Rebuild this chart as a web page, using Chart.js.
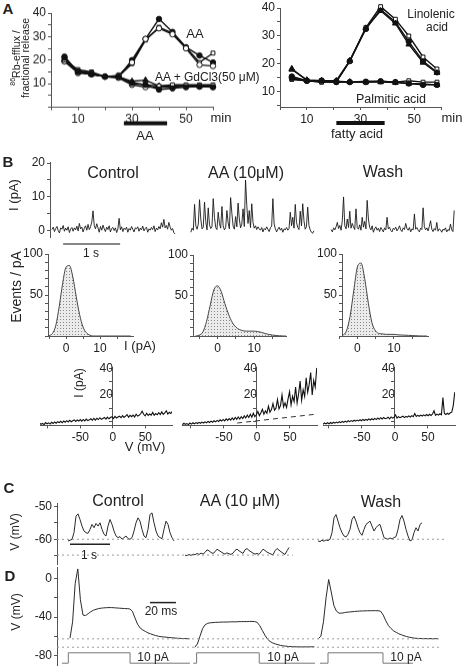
<!DOCTYPE html>
<html>
<head>
<meta charset="utf-8">
<script src="https://cdn.jsdelivr.net/npm/chart.js@4.4.1/dist/chart.umd.min.js"></script>
<style>
  html, body { margin: 0; padding: 0; background: #fff; }
  #fig { position: relative; width: 468px; height: 668px; overflow: hidden;
         font-family: 'Liberation Sans', Arial, Helvetica, sans-serif; color: #222; }
  .box { position: absolute; }
  .lbl { position: absolute; white-space: nowrap; line-height: 1; z-index: 5; text-align: center; }
</style>
</head>
<body>
<div id="fig"></div>
<script>
// ---------- A: 86Rb efflux (fractional release, %) ----------
const aaTimes = [5, 10, 15, 20, 25, 30, 35, 40, 45, 50, 55, 60];
const aaFilled = [21.5, 15, 14.5, 13, 13, 20, 29, 37.5, 32, 25.5, 22, 19];
const aaSquare = [20, 16, 15, 13, 13, 18.5, 28.5, 34, 31.5, 25.5, 19, 23];
const aaCircle = [19.5, 15, 14, 13, 13.5, 19, 29, 33.5, 31, 25, 18, 17.5];
const gdFilled = [21, 15, 14, 13, 13, 10.5, 9.5, 7.5, 8, 8.5, 8.7, 8.5];
const gdSquare = [20, 15.5, 14.5, 13, 12.5, 10, 9.5, 9, 9.5, 9.5, 9.5, 9.5];
const gdTriangle = [20.5, 15, 14, 13, 13, 11, 11.5, 9, 9, 9, 9, 9];
const gdCircle = [19.5, 14.5, 14, 13, 12.5, 9.5, 8.5, 8.5, 8.5, 9, 9, 8.7];
const aaApplied = [27, 43];

const faTimes = [4.4, 10, 15.5, 21, 26, 32, 37.5, 43, 48, 53.3, 58.5];
const linFilled = [15.5, 14, 14, 13.8, 21, 32.5, 39.5, 35, 28, 21, 17];
const linSquare = [14.5, 14, 13.5, 13.5, 21, 33, 40.5, 36, 30, 22.5, 18.2];
const linTriangle = [18.3, 14.2, 14, 14, 21.2, 32.8, 39, 34.5, 27, 20.5, 16.8];
const palFilled = [15, 14, 14, 13.5, 13.5, 13.5, 13.8, 13.5, 13, 12.5, 12.5];
const palSquare = [14.5, 14, 13.5, 13.5, 13.5, 13.8, 13.8, 13.5, 14, 13.5, 13.5];
const palTriangle = [18, 14.2, 14, 13.8, 13.6, 13.5, 13.5, 13.3, 13, 12.8, 12.5];
const faApplied = [21, 39];

const effluxTicks = [0, 5, 10, 15, 20, 25, 30, 35, 40];
const minuteTicks = [0, 10, 20, 30, 40, 50, 60];

// ---------- B: single channel current (pA), sampled every 21.8 ms ----------
const chanDt = 0.0218;
const chanControl = [0.4,1.1,-0.2,0.7,1.3,0.1,-0.6,0.9,0.5,1.6,
  -0.1,0.8,0.2,1.2,-0.5,0.6,1.0,-0.1,0.9,0.3,
  1.4,0.0,2.2,0.6,1.1,-0.3,0.8,1.5,0.2,1.9,
  0.4,1.2,2.6,5.9,1.5,0.6,2.1,0.9,-0.4,1.3,
  0.2,1.7,0.6,-0.2,1.1,0.4,1.5,-0.3,0.7,1.0,
  0.1,0.9,-0.5,0.6,3.7,0.3,1.2,-0.2,0.8,0.4,
  1.1,-0.4,0.7,0.2,1.3,0.5,-0.3,0.9,0.6,1.2,
  -0.1,0.8,0.3,1.4,0.0,0.7,1.1,-0.4,0.6,0.2,
  1.0,0.4,1.5,-0.2,0.8,0.3,1.3,0.6,2.4,1.1,
  3.4,0.9,1.6,0.5,2.5,1.2,0.2,0.7,-0.5,-0.9];
const chanAA = [-0.4,0.8,0.2,7.8,1.5,0.5,2.0,9.2,3.5,0.6,
  1.1,8.5,2.8,0.3,6.8,1.8,0.7,1.2,9.5,4.0,
  1.0,0.4,5.5,2.2,0.8,7.2,1.5,0.3,1.0,6.0,
  2.4,0.6,9.8,5.2,1.4,0.5,4.2,1.2,8.2,3.5,
  0.9,2.0,6.5,1.3,15.0,7.5,2.2,6.0,1.0,8.0,
  2.5,0.8,1.5,0.4,1.2,0.6,0.2,1.0,-0.3,0.7,
  0.3,1.2,0.5,-0.2,0.9,1.4,9.5,2.0,0.6,-0.3,
  0.5,1.1,0.2,0.8,-0.4,0.6,0.3,1.0,0.2,0.7,
  5.5,1.5,4.0,0.8,7.8,2.5,1.0,0.4,5.8,1.5,
  8.0,3.0,0.5,1.2,7.0,1.6,0.3,-0.4,-0.7,0.0];
const chanWash = [0.4,-0.3,0.9,0.3,1.2,2.5,0.7,1.6,0.2,3.0,
  10.0,1.5,0.6,3.5,1.0,5.8,0.8,2.2,1.2,0.4,
  6.5,1.0,0.5,1.8,0.2,4.0,1.1,2.8,0.6,9.0,
  3.5,1.0,0.3,1.5,-0.4,0.6,1.2,0.2,0.8,-0.2,
  1.0,0.4,-0.3,0.9,0.3,4.0,0.6,1.1,0.1,-0.3,
  0.8,0.4,1.1,0.0,0.6,1.5,0.3,-0.2,0.9,0.4,
  2.2,0.7,0.2,1.0,-0.3,0.6,0.3,5.0,0.5,1.0,
  0.2,-0.3,0.8,0.4,6.8,1.2,0.3,0.9,0.0,1.3,
  3.0,0.5,-0.2,0.7,0.2,2.5,-0.1,0.6,0.3,-0.4,
  0.5,0.2,0.9,-0.3,0.4,0.1,2.0,0.3,-0.2,6.0];
const chanTicks = [0, 5, 10, 15, 20];

// amplitude histograms (events / pA) at I = -6 ... 19 pA
const histCurrent = [-6,-5,-4,-3,-2,-1,0,1,2,3,4,5,6,7,8,9,10,11,12,13,14,15,16,17,18,19];
const histControl = [0,0.5,3,13,36,64,84,86,72,48,26,11,4,1,0,0,0,0,0,0,0,0,0,0,0,0];
const histAA = [0,1,5,18,38,57,62,55,40,27,17,11,8,6.5,6,6,6,5.5,4.5,3,2,1.2,0.6,0.2,0,0];
const histWash = [0,0,1,6,24,55,84,89,70,40,16,6,3,2.5,2,2,2,1.5,1.2,1,0.8,0.5,0.3,0.1,0,0];
const histCountTicks = [0, 10, 20, 30, 40, 50, 60, 70, 80, 90, 100];
const histCurrentTicks = [-5, 0, 5, 10, 15];

// I-V ramps: current (pA) along a voltage ramp [start, end] mV
const rampControl = [-115, 91.5];
const ivControl = [-2.6,-1.2,-2.2,-1.5,-2.4,-0.9,-1.8,-1.1,-2.0,-0.6,
  -1.5,-0.4,-1.3,-0.2,-0.9,0.1,-1.0,0.3,-0.6,0.6,
  -0.4,0.9,-0.2,0.5,1.2,0.0,1.1,0.3,1.4,0.2,
  1.5,0.4,1.8,0.6,1.2,2.0,0.9,2.3,1.0,2.4,
  1.4,2.8,1.6,2.2,3.0,1.7,3.3,2.0,3.0,3.6,
  2.2,3.8,2.6,3.4,4.0,2.8,4.4,3.0,4.0,5.2,
  3.2,4.6,3.6,4.8,3.4,5.5,4.0,4.6,5.8,7.8,
  5.4,4.2,6.2,4.5,5.6,4.8,6.8,4.6,5.9,5.0,
  6.6,5.2,7.2,5.4,6.4,8.0,5.6,6.9,6.0,7.6];
const rampAA = [-113, 90.5];
const ivAA = [-2.5,-1.4,-2.2,-1.6,-2.4,-1.2,-2.0,-1.0,-1.8,-0.9,
  -1.6,-0.7,-1.4,-0.5,-1.2,-0.3,-1.0,0.0,-0.8,0.2,
  -0.6,0.5,-0.3,0.8,0.0,1.2,0.3,1.5,0.4,1.9,
  0.8,2.2,1.0,2.6,1.2,3.0,1.6,3.4,1.8,3.6,
  2.2,4.2,2.6,4.8,3.0,5.4,3.2,6.2,3.6,5.0,
  7.5,4.4,6.5,9.2,5.5,8.0,6.2,11.5,7.0,9.0,
  13.5,8.5,10.0,16.5,9.5,12.0,20.0,11.0,14.0,10.5,
  17.0,22.5,12.5,19.0,15.0,26.0,14.0,21.0,30.5,16.0,
  24.0,19.0,33.0,22.0,28.0,37.0,20.0,31.0,26.0,40.5];
const leakV = [-30, 95];
const leakI = [-1.2, 5.8];
const rampWash = [-109, 90.5];
const ivWash = [-2.2,-1.2,-1.9,-1.0,-1.8,-0.8,-1.6,-0.6,-1.3,-0.5,
  -1.1,-0.2,-0.9,0.0,-0.7,0.2,-0.5,0.5,-0.2,0.6,
  0.0,0.9,0.2,1.0,0.4,1.3,0.5,1.5,0.7,1.6,
  0.9,1.9,1.1,2.0,1.3,2.3,1.4,2.6,1.6,2.8,
  1.9,3.0,2.1,2.4,3.2,2.0,3.4,2.5,3.1,5.0,
  2.6,3.6,2.8,3.4,4.0,2.9,3.8,3.2,4.2,3.4,
  4.4,3.6,6.0,3.8,4.6,3.9,4.8,4.1,5.0,4.2,
  5.2,4.3,5.4,4.5,5.6,8.0,4.6,5.5,4.8,5.8,
  5.0,18.0,6.0,5.2,6.2,5.4,6.5,7.0,12.0,22.0];
const ivCurrentTicks = [0, 10, 20, 30, 40];
const ivVoltageTicks = [-100, -50, 0, 50];

// ---------- C: membrane potential (mV), sampled every 50 ms ----------
const vmDt = 0.05;
const vmControl = [-60.5,-60.3,-60.0,-58,-53,-52.3,-54,-56,-57.5,-58,
  -58.2,-57,-55.5,-56.5,-55.2,-56,-55,-57,-58.5,-59,
  -56,-54,-55.5,-57.5,-59,-59.5,-59.2,-60,-59.5,-59,
  -59.8,-60,-59.5,-57.5,-55,-53.5,-54.5,-57,-59,-59.5,
  -57,-52.5,-52,-55,-57.5,-59,-59.5,-59.8,-57,-54.5,
  -55.5,-58,-59.5,-60.5];
const vmAA = [-64.8,-65,-64.6,-64.9,-64.5,-64.7,-64.3,-64.6,-64.2,-64.5,
  -64,-63.2,-63.5,-64,-64.3,-63.8,-63,-63.4,-63.8,-64.2,
  -64.5,-64.1,-64.4,-64.6,-64.2,-63.4,-63,-63.5,-63.9,-64.3,
  -63.2,-62.8,-63.4,-63.8,-64.2,-64.5,-64.3,-64.6,-63.8,-63,
  -63.4,-63.9,-64.2,-64.5,-64.7,-63.5,-62.8,-63.3,-63.8,-64.2,
  -64.6,-63.5,-62.5];
const vmWash = [-60.5,-60.7,-60.3,-60.6,-60.2,-60.4,-60,-58,-53.5,-52.5,
  -54.5,-56.5,-58,-59,-59.3,-58.5,-57,-54,-53,-54.5,
  -56.5,-58,-58.8,-57,-55.5,-55,-54.5,-56,-57.5,-56.5,
  -55.8,-55.5,-57.5,-59.5,-59.8,-60,-59.6,-59.9,-59.5,-59.2,
  -57,-54,-52.8,-54.5,-57,-59,-60.5,-60.2,-58,-56.5,
  -57.5,-55.5,-55];
const vmRestLevels = [-60, -64.8];
const vmTicks = [-65, -60, -55, -50];

// ---------- D: responses to 10 pA current steps (mV), sampled every 2 ms ----------
const apDt = 2;
const apControl = [-62,-45,-5,10,-22,-38,-38.5,-36.5,-34.5,-33,
  -32,-31.2,-30.8,-30.5,-30.3,-30.2,-30.2,-30.4,-30.6,-30.8,
  -31,-31.2,-31.3,-31.6,-34,-41,-47.5,-51.5,-53.5,-55,
  -56.5,-57.5,-58.5,-59.3,-60,-60.5,-60.7,-61,-61.3,-61.5,
  -61.8,-62,-62.2,-62.3,-62.4,-62.5,-62.6];
const apAA = [-71.5,-68,-60,-52,-48,-46.5,-46,-45.8,-45.5,-45.5,
  -45.3,-45.3,-45.2,-45.2,-45,-45,-45,-44.8,-44.8,-44.7,
  -44.8,-44.6,-44.6,-44.7,-45.5,-49,-54,-59,-63,-65.5,
  -67,-68,-68.8,-69.5,-70,-70.3,-70.6,-70.8,-70.9,-71,
  -71,-71.1,-71,-71.1,-71,-71,-70.9];
const apWash = [-62.5,-60,-45,-20,-1,-14,-28,-34,-36,-36,
  -35.5,-35,-34.8,-34.5,-34.2,-34,-33.8,-33.7,-33.6,-33.5,
  -33.5,-33.4,-33.4,-33.5,-34,-38,-44,-49,-52,-54.5,
  -56,-57.5,-58.5,-59.5,-60.3,-61,-61.5,-62,-62.2,-62.3,
  -62.4,-62.5,-62.5,-62.5,-62.6,-62.5,-62.6];
const apRestLevels = [-62.7, -71.4];
const apTicks = [-80, -60, -40, -20, 0];
const stimLevels = [0, 10, 0, 0];          // pA
const stimControlT = [3.8, 8.7, 56.2, 102.3];
const stimAAT = [104.8, 107.4, 155.6, 198.5];
const stimWashT = [202.3, 208.5, 250.8, 273.8];

// ================= drawing =================
Chart.defaults.font.family = "'Liberation Sans', Arial, Helvetica, sans-serif";
Chart.defaults.font.size = 12;
Chart.defaults.color = '#222';
Chart.defaults.animation = false;
Chart.defaults.events = [];
Chart.defaults.plugins.legend.display = false;
Chart.defaults.plugins.tooltip.enabled = false;

const fig = document.getElementById('fig');

// horizontal bars (application bars, scale bars) drawn with the chart's own scales
const barsPlugin = {
  id: 'bars',
  afterDatasetsDraw(chart, args, opts) {
    const xs = chart.scales.x, ys = chart.scales.y, ctx = chart.ctx;
    (opts.items || []).forEach(b => {
      const x0 = xs.getPixelForValue(b.from), x1 = xs.getPixelForValue(b.to);
      const y = b.below != null ? chart.chartArea.bottom + b.below : ys.getPixelForValue(b.at);
      ctx.save();
      ctx.strokeStyle = b.color || '#111';
      ctx.lineWidth = b.width || 1.5;
      ctx.beginPath(); ctx.moveTo(x0, y); ctx.lineTo(x1, y); ctx.stroke();
      ctx.restore();
    });
  }
};
Chart.register(barsPlugin);

function zeroPad(s) { s.paddingLeft = s.paddingRight = s.paddingTop = s.paddingBottom = 0; }

// area = [left, top, right, bottom] of the plot area on the page
function makeChart(area, yW, xH, pad, datasets, scales, bars) {
  const [l, t, r, b] = area;
  const left = l - yW - pad[0], top = t - pad[1];
  const div = document.createElement('div');
  div.className = 'box';
  div.style.left = left + 'px';
  div.style.top = top + 'px';
  div.style.width = (r + pad[2] - left) + 'px';
  div.style.height = (b + xH + pad[3] - top) + 'px';
  const cv = document.createElement('canvas');
  div.appendChild(cv);
  fig.appendChild(div);
  if (scales.x.display !== false) scales.x.afterFit = s => { s.height = xH; zeroPad(s); };
  if (scales.y.display !== false && yW > 0) scales.y.afterFit = s => { s.width = yW; zeroPad(s); };
  return new Chart(cv, {
    type: 'line',
    data: { datasets },
    options: {
      responsive: true,
      maintainAspectRatio: false,
      layout: { padding: { left: pad[0], top: pad[1], right: pad[2], bottom: pad[3] } },
      scales,
      plugins: { bars: { items: bars || [] } }
    }
  });
}

// axis with an explicit list of tick positions, only some of them labelled
function axis(min, max, tickValues, labels, extra) {
  return Object.assign({
    type: 'linear', min, max,
    border: { color: '#555', width: 1 },
    grid: { drawOnChartArea: false, color: '#555', tickLength: 3 },
    afterBuildTicks: s => { s.ticks = tickValues.map(v => ({ value: v })); },
    ticks: {
      padding: 2, autoSkip: false, maxRotation: 0,
      font: { size: 12 },
      callback: v => labels.some(x => Math.abs(x - v) < 1e-6) ? String(Math.round(v)) : ''
    }
  }, extra || {});
}
const hidden = (min, max) => ({ type: 'linear', min, max, display: false });

function pts(xs, ys) { return xs.map((x, i) => ({ x, y: ys[i] })); }
function sampled(values, t0, dt) { return values.map((v, i) => ({ x: t0 + i * dt, y: v })); }
function ramp(values, range) {
  const step = (range[1] - range[0]) / (values.length - 1);
  return values.map((v, i) => ({ x: range[0] + i * step, y: v }));
}
function trace(data, color, width) {
  return { data, borderColor: color || '#222', borderWidth: width || 1, pointRadius: 0, tension: 0, fill: false };
}
function marked(xs, ys, style, fillColor) {
  return {
    data: pts(xs, ys), borderColor: '#111', borderWidth: 1.4, tension: 0, clip: 8,
    pointStyle: style, pointRadius: style === 'triangle' ? 3.3 : 2.7,
    pointBackgroundColor: fillColor, pointBorderColor: '#111', pointBorderWidth: 1
  };
}
function level(y, x0, x1, color, dash) {
  return { data: [{ x: x0, y }, { x: x1, y }], borderColor: color, borderWidth: 1, borderDash: dash, pointRadius: 0, fill: false };
}
function stipple() {
  const c = document.createElement('canvas'); c.width = 3; c.height = 3;
  const g = c.getContext('2d');
  g.fillStyle = 'rgba(0,0,0,0.08)'; g.fillRect(0, 0, 3, 3);
  g.fillStyle = 'rgba(0,0,0,0.42)'; g.fillRect(1, 1, 1, 1);
  return g.createPattern(c, 'repeat');
}
function hist(counts) {
  return {
    data: pts(histCurrent, counts), borderColor: '#444', borderWidth: 1, pointRadius: 0,
    cubicInterpolationMode: 'monotone', fill: 'origin', backgroundColor: stipple()
  };
}

// ----- A left -----
makeChart([51, 13, 213, 106.5], 30, 16, [4, 8, 8, 34], [
  marked(aaTimes, gdFilled, 'circle', '#111'),
  marked(aaTimes, gdSquare, 'rect', '#fff'),
  marked(aaTimes, gdTriangle, 'triangle', '#111'),
  marked(aaTimes, gdCircle, 'circle', '#fff'),
  marked(aaTimes, aaCircle, 'circle', '#fff'),
  marked(aaTimes, aaSquare, 'rect', '#fff'),
  marked(aaTimes, aaFilled, 'circle', '#111')
], {
  x: axis(0, 60, minuteTicks, [10, 30, 50]),
  y: axis(0, 40, effluxTicks, [10, 20, 30, 40])
}, [{ from: aaApplied[0], to: aaApplied[1], below: 16, width: 4 }]);

// ----- A right -----
makeChart([280, 8, 441, 107], 30, 16, [4, 8, 6, 34], [
  marked(faTimes, palFilled, 'circle', '#111'),
  marked(faTimes, palSquare, 'rect', '#fff'),
  marked(faTimes, palTriangle, 'triangle', '#111'),
  marked(faTimes, linTriangle, 'triangle', '#111'),
  marked(faTimes, linSquare, 'rect', '#fff'),
  marked(faTimes, linFilled, 'circle', '#111')
], {
  x: axis(0, 60, minuteTicks, [10, 30, 50]),
  y: axis(4.6, 40, effluxTicks.slice(1), [10, 20, 30, 40])
}, [{ from: faApplied[0], to: faApplied[1], below: 16, width: 4 }]);

// ----- B current traces -----
makeChart([50, 162, 456, 237], 30, 0, [4, 8, 6, 12], [
  trace(sampled(chanControl, 0.035, chanDt), '#1a1a1a', 0.9),
  trace(sampled(chanAA, 2.47, chanDt), '#1a1a1a', 0.9),
  trace(sampled(chanWash, 4.93, chanDt), '#1a1a1a', 0.9)
], {
  x: hidden(0, 7.12),
  y: axis(-1.8, 20.3, chanTicks, [0, 10, 20])
}, [{ from: 0.23, to: 1.23, below: 7, width: 2, color: '#888' }]);

// ----- B amplitude histograms -----
const histAxes = (min, max) => ({
  x: axis(min, max, histCurrentTicks, [0, 10]),
  y: axis(0, 100, histCountTicks, [50, 100])
});
makeChart([48, 254, 133, 336], 30, 16, [4, 8, 6, 4], [hist(histControl)], histAxes(-5.3, 19.7));
makeChart([193, 255, 286, 336], 30, 16, [4, 8, 6, 4], [hist(histAA)], histAxes(-6.7, 18.7));
makeChart([342, 254, 428, 336], 30, 16, [4, 8, 6, 4], [hist(histWash)], histAxes(-4.2, 19.3));

// ----- B I-V ramps -----
const ivAxes = (min, max) => ({
  x: axis(min, max, ivVoltageTicks, [-50, 0, 50]),
  y: axis(-3, 41, ivCurrentTicks, [20, 40], { position: { x: 0 } })
});
makeChart([40, 365.6, 172, 425], 0, 16, [4, 8, 6, 4],
  [trace(ramp(ivControl, rampControl), '#111', 1.1)], ivAxes(-112, 91));
makeChart([182, 365.6, 317, 425], 0, 16, [4, 8, 6, 4], [
  { data: pts(leakV, leakI), borderColor: '#333', borderWidth: 1, borderDash: [5, 4], pointRadius: 0 },
  trace(ramp(ivAA, rampAA), '#111', 1.1)
], ivAxes(-113.6, 90.9));
makeChart([323, 365.6, 455, 425], 0, 16, [4, 8, 6, 4],
  [trace(ramp(ivWash, rampWash), '#111', 1.1)], ivAxes(-109, 90.9));

// ----- C membrane potential -----
makeChart([57, 502.7, 445, 563.75], 30, 0, [4, 8, 6, 4], [
  level(vmRestLevels[0], 0, 9.7, '#9a9a9a', [2, 3]),
  level(vmRestLevels[1], 0, 5.9, '#9a9a9a', [2, 3]),
  trace(sampled(vmControl, 0.275, vmDt), '#2a2a2a', 1),
  trace(sampled(vmAA, 3.2, vmDt), '#2a2a2a', 1),
  trace(sampled(vmWash, 6.525, vmDt), '#2a2a2a', 1)
], {
  x: hidden(0, 9.7),
  y: axis(-67.5, -49, vmTicks, [-50, -60])
}, [{ from: 0.325, to: 1.325, at: -61.5, width: 1.5, color: '#222' }]);

// ----- D current-step responses -----
const stim = ts => ({ data: pts(ts, stimLevels), yAxisID: 'yStim', stepped: 'before', borderColor: '#777', borderWidth: 1, pointRadius: 0 });
makeChart([57, 566.5, 445, 664.6], 30, 0, [4, 8, 6, 4], [
  level(apRestLevels[0], 0, 294.6, '#9a9a9a', [2, 3]),
  level(apRestLevels[1], 0, 294.6, '#9a9a9a', [2, 3]),
  trace(sampled(apControl, 10, apDt), '#2a2a2a', 1),
  trace(sampled(apAA, 106, apDt), '#2a2a2a', 1),
  trace(sampled(apWash, 201, apDt), '#2a2a2a', 1),
  stim(stimControlT), stim(stimAAT), stim(stimWashT)
], {
  x: hidden(0, 298.5),
  y: axis(-90, 12, apTicks, [0, -40, -80]),
  yStim: hidden(-1.83, 92.5)
}, [{ from: 71.5, to: 91.5, at: -25, width: 1.5, color: '#222' }]);

// ----- text -----
function label(html, x, y, size, o) {
  o = o || {};
  const d = document.createElement('div');
  d.className = 'lbl';
  d.innerHTML = html;
  d.style.left = x + 'px';
  d.style.top = y + 'px';
  d.style.fontSize = size + 'px';
  if (o.bold) d.style.fontWeight = 'bold';
  if (o.lh) d.style.lineHeight = o.lh;
  let tf = o.left ? 'translate(0,-50%)' : 'translate(-50%,-50%)';
  if (o.rot) tf += ' rotate(-90deg)';
  d.style.transform = tf;
  fig.appendChild(d);
}
// A
label('A', 8, 8, 15, { bold: true });
label('<sup style="font-size:7px">86</sup>Rb-efflux /<br>fractional release', 21, 58, 10.5, { rot: true, lh: 0.95 });
label('AA', 195, 33, 13);
label('AA + GdCl3(50 μM)', 155, 77, 12, { left: true });
label('min', 221, 117, 13);
label('AA', 145, 135, 13);
label('Linolenic', 431, 14, 12);
label('acid', 437, 27, 12);
label('Palmitic acid', 391, 99, 12.5);
label('min', 452, 117, 13);
label('fatty acid', 357, 133, 13);
// B
label('B', 8, 161, 15, { bold: true });
label('Control', 113, 173, 16);
label('AA (10μM)', 246, 173, 16);
label('Wash', 383, 172, 16);
label('I (pA)', 13, 195, 13, { rot: true });
label('1 s', 91, 253, 12);
label('Events / pA', 16, 287, 14, { rot: true });
label('I (pA)', 140, 345, 13);
label('I (pA)', 79, 383, 12, { rot: true });
label('V (mV)', 145, 446, 13);
// C
label('C', 9, 487, 15, { bold: true });
label('Control', 118, 501, 16);
label('AA (10 μM)', 240, 501, 16);
label('Wash', 381, 502, 16);
label('V (mV)', 15, 532, 12, { rot: true });
label('1 s', 89, 555, 12);
// D
label('D', 10, 575, 15, { bold: true });
label('V (mV)', 16, 612, 12, { rot: true });
label('20 ms', 161, 611, 12);
label('10 pA', 153, 657, 12);
label('10 pA', 283, 657, 12);
label('10 pA', 406, 657, 12);
</script>
</body>
</html>
